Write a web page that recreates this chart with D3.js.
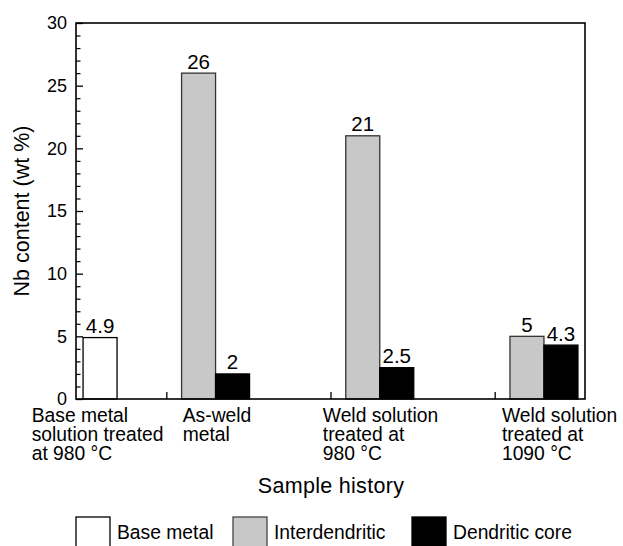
<!DOCTYPE html>
<html>
<head>
<meta charset="utf-8">
<script src="https://cdn.jsdelivr.net/npm/d3@7"></script>
<style>
  html, body { margin: 0; padding: 0; background: #fff; }
  svg { display: block; font-family: "Liberation Sans", Arial, Helvetica, sans-serif; }
</style>
</head>
<body>
<svg id="chart" width="623" height="546"></svg>
<script>
// ---- data ----
const categories = [
  ["Base metal", "solution treated", "at 980 °C"],
  ["As-weld", "metal"],
  ["Weld solution", "treated at", "980 °C"],
  ["Weld solution", "treated at", "1090 °C"]
];
const seriesNames = ["Base metal", "Interdendritic", "Dendritic core"];
const baseMetal     = [4.9, null, null, null];
const interdendritic = [null, 26, 21, 5];
const dendriticCore  = [null, 2, 2.5, 4.3];
const valueLabels = {
  base: ["4.9", null, null, null],
  inter: [null, "26", "21", "5"],
  core: [null, "2", "2.5", "4.3"]
};
const yTicks = [0, 5, 10, 15, 20, 25, 30];
const yMinorTicks = d3.range(0, 31, 1);
const xTicks = [1, 2, 3];

// ---- layout ----
const svg = d3.select("#chart");
const L = 76, R = 585, T = 23, B = 399;
const x = d3.scaleLinear().domain([0.45, 3.55]).range([L, R]);
const y = d3.scaleLinear().domain([0, 30]).range([B, T]);
const slots = [0.4, 1, 2, 3];          // group slot in x units
const offset = 0.093, bw = 0.207;      // bar start offset & width in x units
const labelX = [0.18, 1.1, 1.953, 3.044];
const fills = ["#ffffff", "#c8c8c8", "#000000"];

// bars
const bars = [];
categories.forEach((c, i) => {
  const start = slots[i] + offset;
  if (baseMetal[i] != null) bars.push({ s: 0, x0: start, v: baseMetal[i], lab: valueLabels.base[i] });
  if (interdendritic[i] != null) bars.push({ s: 1, x0: start, v: interdendritic[i], lab: valueLabels.inter[i] });
  if (dendriticCore[i] != null) bars.push({ s: 2, x0: start + bw, v: dendriticCore[i], lab: valueLabels.core[i] });
});

svg.append("g").selectAll("rect").data(bars).join("rect")
  .attr("x", d => x(d.x0))
  .attr("width", d => x(d.x0 + bw) - x(d.x0))
  .attr("y", d => y(d.v))
  .attr("height", d => y(0) - y(d.v))
  .attr("fill", d => fills[d.s])
  .attr("stroke", d => d.s === 1 ? "#333" : "#000")
  .attr("stroke-width", 1.3);

svg.append("g").selectAll("text").data(bars).join("text")
  .attr("x", d => (x(d.x0) + x(d.x0 + bw)) / 2)
  .attr("y", d => y(d.v) - 4.5)
  .attr("text-anchor", "middle")
  .attr("font-size", 20.5)
  .attr("fill", "#000")
  .text(d => d.lab);

// frame
svg.append("rect").attr("x", L).attr("y", T).attr("width", R - L).attr("height", B - T)
  .attr("fill", "none").attr("stroke", "#000").attr("stroke-width", 1.6);

// y axis (ticks inward)
const yAxis = d3.axisRight(y).tickValues(yTicks).tickSize(7).tickFormat("");
const gy = svg.append("g").attr("transform", `translate(${L},0)`).call(yAxis);
gy.select(".domain").remove();
gy.selectAll("line").attr("stroke", "#000").attr("stroke-width", 1.3);
const yMinor = d3.axisRight(y).tickValues(yMinorTicks.filter(v => v % 5 !== 0)).tickSize(4.5).tickFormat("");
const gym = svg.append("g").attr("transform", `translate(${L},0)`).call(yMinor);
gym.select(".domain").remove();
gym.selectAll("line").attr("stroke", "#000").attr("stroke-width", 1.2);
svg.append("g").selectAll("text").data(yTicks).join("text")
  .attr("x", L - 9).attr("y", d => y(d)).attr("dy", "0.36em")
  .attr("text-anchor", "end").attr("font-size", 18).text(d => d);

// x axis ticks (inward)
const xAxis = d3.axisTop(x).tickValues(xTicks).tickSize(7).tickFormat("");
const gx = svg.append("g").attr("transform", `translate(0,${B})`).call(xAxis);
gx.select(".domain").remove();
gx.selectAll("line").attr("stroke", "#000").attr("stroke-width", 1.3);

// category labels
categories.forEach((lines, i) => {
  const t = svg.append("text").attr("font-size", 19.3).attr("fill", "#000");
  lines.forEach((ln, j) => {
    t.append("tspan").attr("x", x(labelX[i])).attr("y", 422 + j * 19).text(ln);
  });
});

// axis titles
svg.append("text").attr("x", 331).attr("y", 493).attr("text-anchor", "middle")
  .attr("font-size", 21.5).attr("letter-spacing", 0.3).text("Sample history");
svg.append("text").attr("transform", `translate(29,${(T + B) / 2}) rotate(-90)`)
  .attr("text-anchor", "middle").attr("font-size", 21.5).text("Nb content (wt %)");

// legend
const legX = [76, 233, 412];
const leg = svg.append("g").selectAll("g").data(seriesNames).join("g");
leg.append("rect").attr("x", (d, i) => legX[i]).attr("y", 517).attr("width", 34).attr("height", 36)
  .attr("fill", (d, i) => fills[i]).attr("stroke", (d, i) => i === 1 ? "#444" : "#000").attr("stroke-width", 1.3);
leg.append("text").attr("x", (d, i) => legX[i] + 41).attr("y", 539).attr("font-size", 19.3).text(d => d);
</script>
</body>
</html>
